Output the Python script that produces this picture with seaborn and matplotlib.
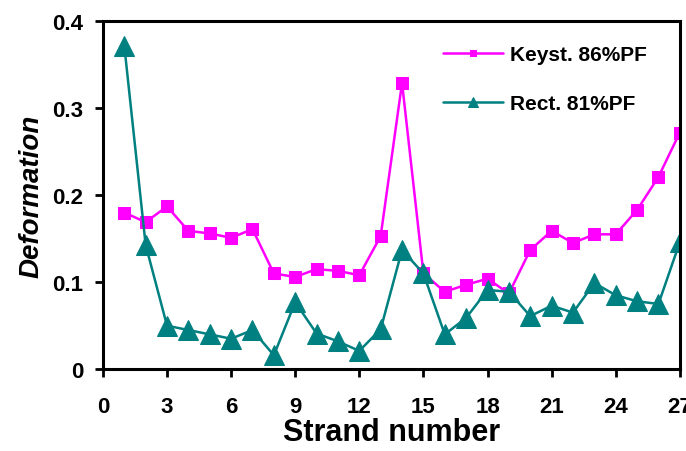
import matplotlib
matplotlib.use("Agg")
import matplotlib.pyplot as plt
import seaborn as sns
import pandas as pd

strand = list(range(1, 28))
keyst = [0.180, 0.169, 0.187, 0.159, 0.156, 0.151, 0.161, 0.110, 0.106, 0.115,
         0.113, 0.108, 0.153, 0.329, 0.110, 0.089, 0.097, 0.104, 0.087, 0.137,
         0.159, 0.145, 0.155, 0.155, 0.183, 0.221, 0.272]
rect = [0.372, 0.143, 0.050, 0.045, 0.040, 0.035, 0.045, 0.016, 0.077, 0.041,
        0.032, 0.021, 0.046, 0.137, 0.110, 0.040, 0.059, 0.091, 0.089, 0.061,
        0.073, 0.065, 0.099, 0.085, 0.078, 0.075, 0.146]
labels = ["Keyst. 86%PF", "Rect. 81%PF"]
xticks = list(range(0, 28, 3))
yticks = [0, 0.1, 0.2, 0.3, 0.4]
ytick_labels = ["0", "0.1", "0.2", "0.3", "0.4"]

sns.set_style("white")
plt.rcParams['font.family'] = ['Liberation Sans', 'DejaVu Sans']
plt.rcParams['text.color'] = 'black'
plt.rcParams['xtick.color'] = 'black'
plt.rcParams['ytick.color'] = 'black'
plt.rcParams['axes.labelcolor'] = 'black'

fig = plt.figure(figsize=(6.86, 4.52), dpi=100)
ax = fig.add_axes([0.150, 0.181, 0.841, 0.770])

df1 = pd.DataFrame({"x": strand, "y": keyst})
df2 = pd.DataFrame({"x": strand, "y": rect})
sns.lineplot(data=df1, x="x", y="y", ax=ax, color="#FF00FF", lw=1.8,
             marker="s", markersize=9, markeredgecolor="#FF00FF", label=labels[0])
sns.lineplot(data=df2, x="x", y="y", ax=ax, color="#008080", lw=1.8,
             marker="^", markersize=14, markeredgecolor="#008080", label=labels[1])

ax.set_xlim(0, 27)
ax.set_ylim(0, 0.4)
ax.set_xticks(xticks)
ax.set_yticks(yticks)
ax.set_yticklabels(ytick_labels)
for lab in ax.get_xticklabels() + ax.get_yticklabels():
    lab.set_fontweight("bold")
    lab.set_fontsize(16)
ax.tick_params(axis="x", direction="out", length=6, width=2, pad=13, bottom=True)
ax.tick_params(axis="y", direction="out", length=6, width=2, pad=8, left=True)
for sp in ax.spines.values():
    sp.set_linewidth(2.2)
    sp.set_color("black")
ax.set_xlabel("Strand number", fontsize=22, fontweight="bold", labelpad=0)
ax.set_ylabel("Deformation", fontsize=20, fontweight="bold", style="italic", labelpad=6)

leg = ax.legend(loc="upper left", bbox_to_anchor=(0.575, 0.955), frameon=False,
                handlelength=2.9, borderaxespad=0.0, labelspacing=1.45,
                markerscale=0.55, handletextpad=0.3,
                prop={"weight": "bold", "size": 15})
fig.savefig("out.png", dpi=100)
